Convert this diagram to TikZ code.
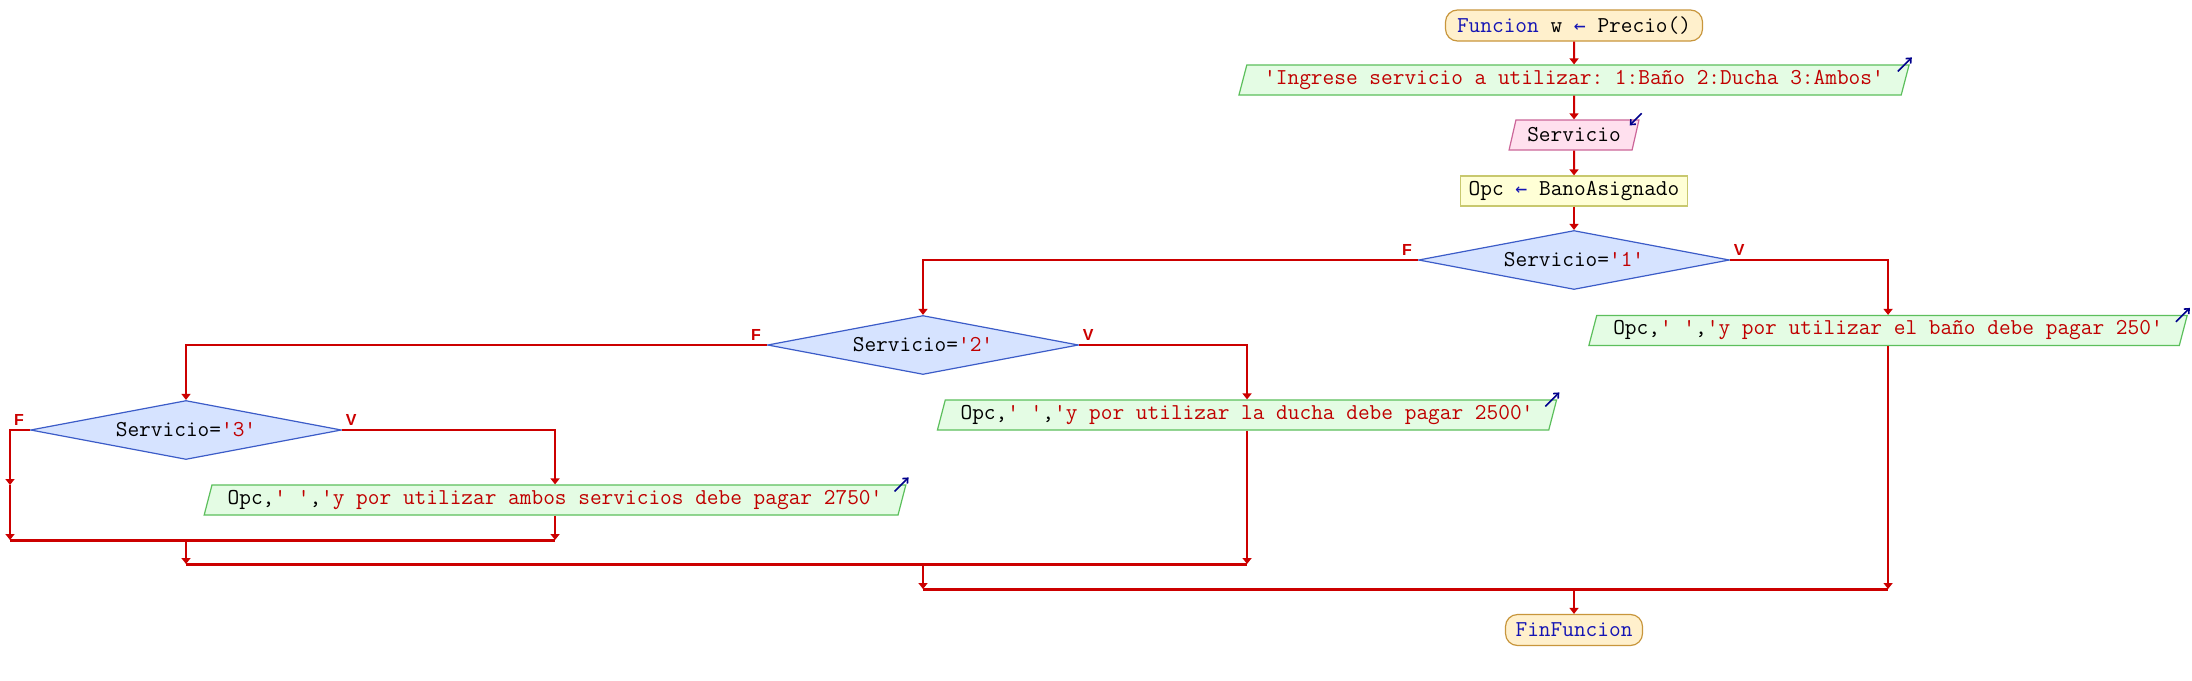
\documentclass[tikz,border=0pt]{standalone}
\usepackage{fontspec}
\newfontfamily\lblfont{Liberation Sans}
\newfontfamily\arrfont{DejaVu Sans Mono}
\usetikzlibrary{shapes.geometric,arrows.meta,calc}
\definecolor{linec}{HTML}{CC0000}
\definecolor{strc}{HTML}{C00000}
\definecolor{kwc}{HTML}{1414B4}
\definecolor{markc}{HTML}{00008C}
\definecolor{termf}{HTML}{FFF0CC}
\definecolor{termb}{HTML}{C8963C}
\definecolor{grnf}{HTML}{E4FCE4}
\definecolor{grnb}{HTML}{5CBF5C}
\definecolor{pinkf}{HTML}{FFE0EE}
\definecolor{pinkb}{HTML}{CC6699}
\definecolor{yelf}{HTML}{FFFFD6}
\definecolor{yelb}{HTML}{C8C86E}
\definecolor{bluf}{HTML}{D6E3FF}
\definecolor{blub}{HTML}{3C5CC8}
\tikzset{
  base/.style={font=\ttfamily\fontsize{22.7}{25}\selectfont\frenchspacing, inner sep=0pt, line width=1.2pt, text=black},
  term/.style={base, rectangle, draw=termb, fill=termf, rounded corners=12pt, minimum height=31pt},
  wrbox/.style={base, trapezium, trapezium left angle=69, trapezium right angle=111, trapezium stretches=true, draw=grnb, fill=grnf, minimum height=30pt},
  rdbox/.style={wrbox, draw=pinkb, fill=pinkf},
  asgbox/.style={base, rectangle, draw=yelb, fill=yelf, minimum height=30pt},
  decbox/.style={base, diamond, aspect=5.27, draw=blub, fill=bluf, minimum width=311pt, minimum height=59pt},
  flow/.style={draw=linec, line width=2pt, -{Triangle[length=6pt,width=9pt]}},
  joinline/.style={draw=linec, line width=3pt},
  lbl/.style={text=linec, font=\lblfont\bfseries\fontsize{16}{16}\selectfont, inner sep=0pt},
  iomark/.style={draw=markc, line width=1.6pt, -{Straight Barb[length=4pt,width=7pt]}}
}
\newcommand{\sq}[1]{\textcolor{strc}{#1}}
\newcommand{\kw}[1]{\textcolor{kwc}{#1}}
\newcommand{\getsarrow}{\textcolor{kwc}{\makebox[0.525em]{\arrfont\fontsize{19.8}{20}\selectfont ←}}}
\begin{document}
\begin{tikzpicture}[x=1pt,y=-1pt]
\fill[white] (0,0) rectangle (2192,680);
\useasboundingbox (0,0) rectangle (2192,680);

\node[term, minimum width=257pt] (t1) at (1574,25.5) {\kw{Funcion} w \getsarrow{} Precio()};
\node[wrbox, minimum width=672pt] (in1) at (1574,80) {\sq{'Ingrese servicio a utilizar: 1:Baño 2:Ducha 3:Ambos'}};
\node[rdbox, minimum width=130pt] (rd1) at (1574,135) {Servicio};
\node[asgbox, minimum width=227pt] (as1) at (1574,191) {Opc \getsarrow{} BanoAsignado};
\node[decbox] (d1) at (1574,260) {Servicio=\sq{'1'}};
\node[wrbox, minimum width=599pt] (o1) at (1888,330.5) {Opc,\sq{' '},\sq{'y por utilizar el baño debe pagar 250'}};
\node[decbox] (d2) at (923,345) {Servicio=\sq{'2'}};
\node[wrbox, minimum width=622pt] (o2) at (1247,415) {Opc,\sq{' '},\sq{'y por utilizar la ducha debe pagar 2500'}};
\node[decbox] (d3) at (186,430) {Servicio=\sq{'3'}};
\node[wrbox, minimum width=708pt] (o3) at (555,500) {Opc,\sq{' '},\sq{'y por utilizar ambos servicios debe pagar 2750'}};
\node[term, minimum width=137pt] (fin) at (1574,630) {\kw{FinFuncion}};

% branch labels
\node[lbl] (f1) at ($(d1.west)+(-11,-10)$) {F};
\node[lbl] (v1) at ($(d1.east)+(9,-10)$) {V};
\node[lbl] (f2) at ($(d2.west)+(-11,-10)$) {F};
\node[lbl] (v2) at ($(d2.east)+(9,-10)$) {V};
\node[lbl] (f3) at ($(d3.west)+(-11,-10)$) {F};
\node[lbl] (v3) at ($(d3.east)+(9,-10)$) {V};

% io marks
\draw[iomark] ($(in1.top right corner)+(-12,7)$) -- ++(14,-14);
\draw[iomark] ($(o1.top right corner)+(-12,7)$) -- ++(14,-14);
\draw[iomark] ($(o2.top right corner)+(-12,7)$) -- ++(14,-14);
\draw[iomark] ($(o3.top right corner)+(-12,7)$) -- ++(14,-14);
\draw[iomark] ($(rd1.top right corner)+(2,-6)$) -- ++(-12,12);

% coordinates
\coordinate (m3) at (10,485);
\coordinate (j3l) at (10,540);
\coordinate (j3r) at (o3.south |- j3l);
\coordinate (j3c) at (d3.south |- j3l);
\coordinate (j2l) at (186,564);
\coordinate (j2r) at (o2.south |- j2l);
\coordinate (j2c) at (d2.south |- j2l);
\coordinate (j1l) at (923,589);
\coordinate (j1r) at (o1.south |- j1l);
\coordinate (j1c) at (fin.north |- j1l);

% connectors
\draw[flow] (t1) -- (in1);
\draw[flow] (in1) -- (rd1);
\draw[flow] (rd1) -- (as1);
\draw[flow] (as1) -- (d1);
\draw[flow] (d1.east) -| (o1.north);
\draw[flow] (d1.west) -| (d2.north);
\draw[flow] (d2.east) -| (o2.north);
\draw[flow] (d2.west) -| (d3.north);
\draw[flow] (d3.east) -| (o3.north);
\draw[flow] (d3.west) -| (m3);
\draw[flow] (m3) -- (j3l);
\draw[flow] (o3.south) -- (j3r);
\draw[joinline] (j3l) -- (j3r);
\draw[flow] (j3c) -- (j2l);
\draw[flow] (o2.south) -- (j2r);
\draw[joinline] (j2l) -- (j2r);
\draw[flow] (j2c) -- (j1l);
\draw[flow] (o1.south) -- (j1r);
\draw[joinline] (j1l) -- (j1r);
\draw[flow] (j1c) -- (fin);
\end{tikzpicture}
\end{document}
